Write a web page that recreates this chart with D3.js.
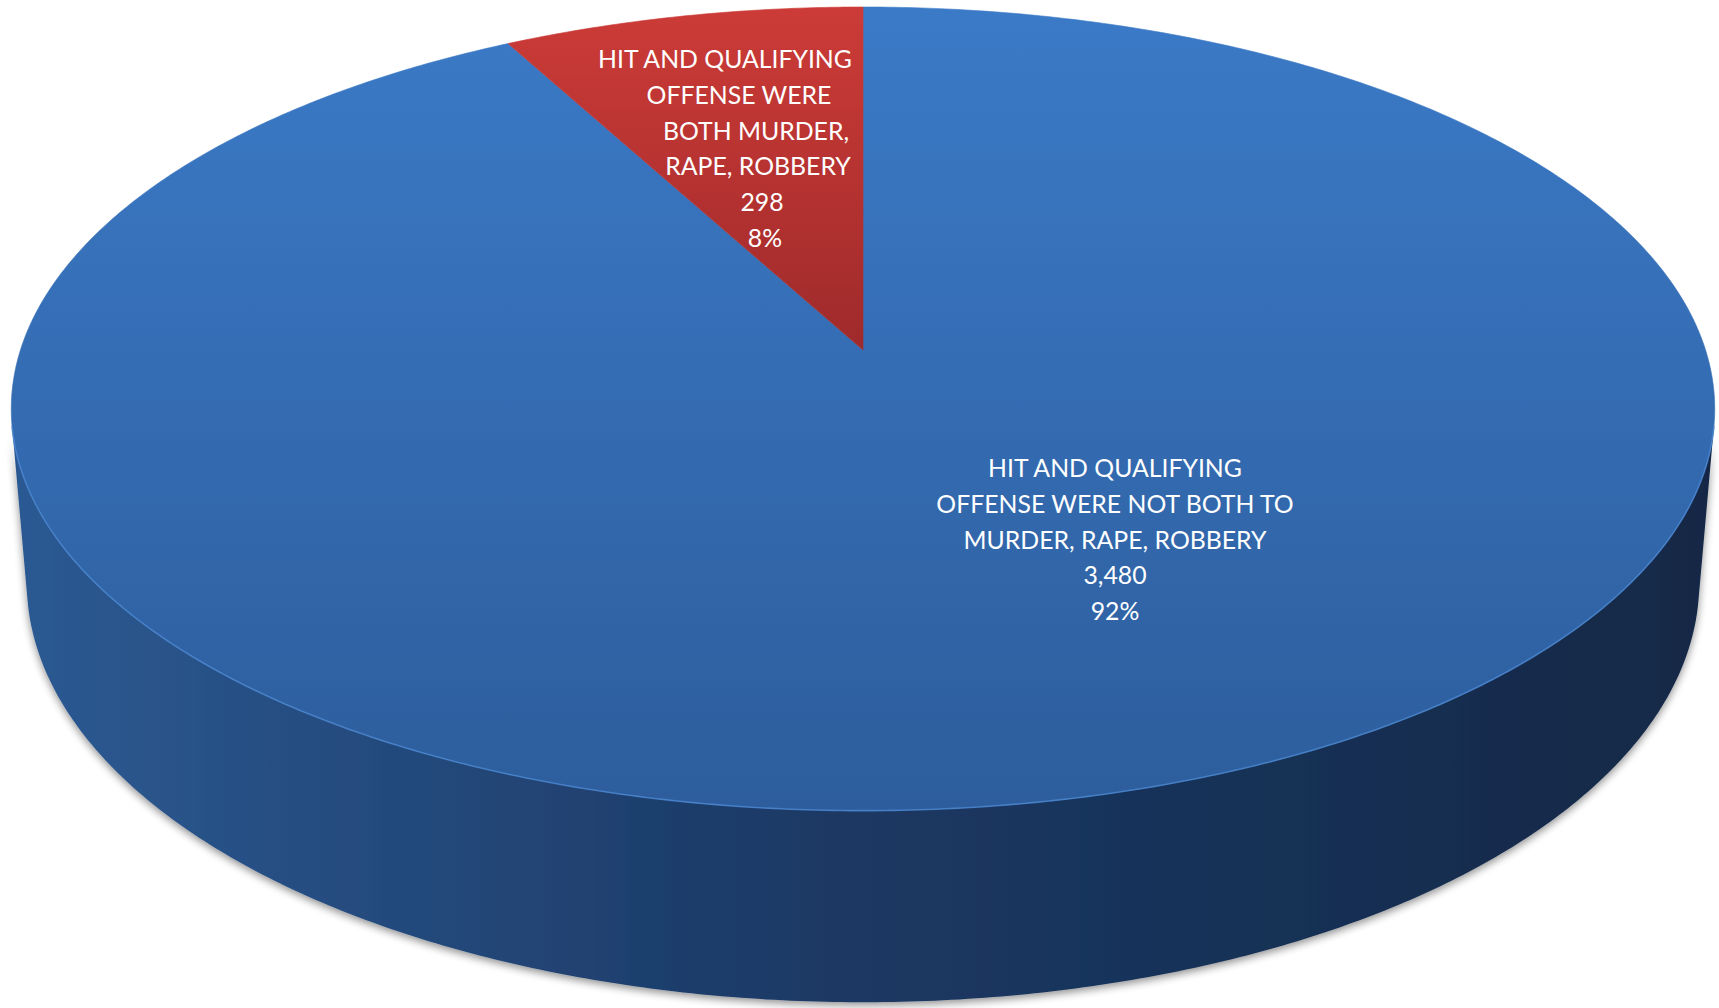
<!DOCTYPE html>
<html>
<head>
<meta charset="utf-8">
<script src="https://cdn.jsdelivr.net/npm/d3@7"></script>
<style>
html,body{margin:0;padding:0;background:#fff;}
svg{display:block;}
text{font-family:Lato,"Open Sans",sans-serif;fill:#fff;}
</style>
</head>
<body>
<svg id="chart" width="1719" height="1008"></svg>
<script>
// ---- data ----
const categories = [
  "HIT AND QUALIFYING OFFENSE WERE NOT BOTH TO MURDER, RAPE, ROBBERY",
  "HIT AND QUALIFYING OFFENSE WERE BOTH MURDER, RAPE, ROBBERY"
];
const values = [3480, 298];
const labelLines = [
  ["HIT AND QUALIFYING", "OFFENSE WERE NOT BOTH TO", "MURDER, RAPE, ROBBERY"],
  ["HIT AND QUALIFYING", "OFFENSE WERE", "BOTH MURDER,", "RAPE, ROBBERY"]
];

// ---- styles / layout ----
const topColors = [["#3b7ac7", "#2d5d9c"], ["#cc3b37", "#9f2a2b"]];
const sideStops = [["0%", "#2c5992"], ["45%", "#1c3a66"], ["100%", "#132846"]];
// label layout: per slice, x centres of each line and first baseline
const labelLayout = [
  {xs: [1115, 1115, 1115, 1115, 1115], y0: 477},
  {xs: [725, 739, 756, 758, 762, 765], y0: 68}
];
const lineStep = 35.8;

// ---- 3D perspective projection of the pie ----
const cx = 863, cy = 350;
const R = 1, D = 6.04, elev = Math.asin(0.4667), F = 5089, H = 0.2353;
function proj(phi, y, r = R) {
  const X = r * Math.sin(phi), Z = -r * Math.cos(phi);
  const depth = D - (y * Math.sin(elev) + Z * Math.cos(elev));
  return [cx + F * X / depth, cy - F * (y * Math.cos(elev) - Z * Math.sin(elev)) / depth];
}
function arcPts(a0, a1, y, n) {
  const pts = [];
  const steps = Math.max(2, Math.ceil(Math.abs(a1 - a0) / (Math.PI / 360)));
  for (let i = 0; i <= steps; i++) pts.push(proj(a0 + (a1 - a0) * i / steps, y));
  return pts;
}

const svg = d3.select("#chart");
const defs = svg.append("defs");
const line = d3.line();

const pie = d3.pie().sort(null).value(d => d);
const arcs = pie(values);
const total = d3.sum(values);

// gradients
arcs.forEach((a, i) => {
  const g = defs.append("linearGradient").attr("id", "top" + i)
    .attr("gradientUnits", "userSpaceOnUse")
    .attr("x1", 0).attr("x2", 0)
    .attr("y1", proj(0, 0)[1]).attr("y2", i === 0 ? proj(Math.PI, 0)[1] : cy);
  g.append("stop").attr("offset", "0%").attr("stop-color", topColors[i][0]);
  g.append("stop").attr("offset", "100%").attr("stop-color", topColors[i][1]);
});
const sg = defs.append("linearGradient").attr("id", "side")
  .attr("gradientUnits", "userSpaceOnUse")
  .attr("x1", proj(-Math.PI / 2, 0)[0]).attr("x2", proj(Math.PI / 2, 0)[0])
  .attr("y1", 0).attr("y2", 0);
sideStops.forEach(s => sg.append("stop").attr("offset", s[0]).attr("stop-color", s[1]));

const filt = defs.append("filter").attr("id", "shadow")
  .attr("x", "-5%").attr("y", "-5%").attr("width", "110%").attr("height", "115%");
filt.append("feGaussianBlur").attr("in", "SourceAlpha").attr("stdDeviation", 4).attr("result", "b");
filt.append("feOffset").attr("in", "b").attr("dx", 0).attr("dy", 3).attr("result", "o");
filt.append("feComponentTransfer").attr("in", "o").attr("result", "oa")
  .append("feFuncA").attr("type", "linear").attr("slope", 0.45);
const fm = filt.append("feMerge");
fm.append("feMergeNode").attr("in", "oa");
fm.append("feMergeNode").attr("in", "SourceGraphic");

// visible side range (silhouette generators)
const phiS = Math.acos(-R / (D * Math.cos(elev)));
const sideLo = phiS, sideHi = 2 * Math.PI - phiS;

const gSide = svg.append("g").attr("filter", "url(#shadow)");
arcs.forEach((a, i) => {
  const s = Math.max(a.startAngle, sideLo), e = Math.min(a.endAngle, sideHi);
  if (e <= s) return;
  const pts = arcPts(s, e, 0).concat(arcPts(e, s, -H));
  gSide.append("path").attr("d", line(pts) + "Z").attr("fill", "url(#side)");
});

// top faces
const gTop = svg.append("g");
arcs.forEach((a, i) => {
  const pts = [[cx, cy]].concat(arcPts(a.startAngle, a.endAngle, 0));
  gTop.append("path").attr("d", line(pts) + "Z").attr("fill", `url(#top${i})`)
    .attr("stroke", `url(#top${i})`).attr("stroke-width", 0.6);
});
// bevel highlight along front rim
gTop.append("path")
  .attr("d", line(arcPts(sideLo, sideHi, 0)))
  .attr("fill", "none").attr("stroke", "#4a86cf").attr("stroke-width", 1.6).attr("stroke-opacity", 0.8);

// labels
const fmtN = d3.format(",");
const fmtP = d3.format(".0%");
const gLab = svg.append("g");
// fit font so that "HIT AND QUALIFYING" is ~254px wide
const probe = gLab.append("text").attr("font-size", 100).text("HIT AND QUALIFYING");
const fs = 100 * 254 / probe.node().getComputedTextLength();
probe.remove();
arcs.forEach((a, i) => {
  const lines = labelLines[i].concat([fmtN(values[i]), fmtP(values[i] / total)]);
  const L = labelLayout[i];
  lines.forEach((t, k) => {
    gLab.append("text")
      .attr("x", L.xs[k]).attr("y", L.y0 + k * lineStep)
      .attr("text-anchor", "middle").attr("font-size", fs)
      .text(t);
  });
});
</script>
</body>
</html>
